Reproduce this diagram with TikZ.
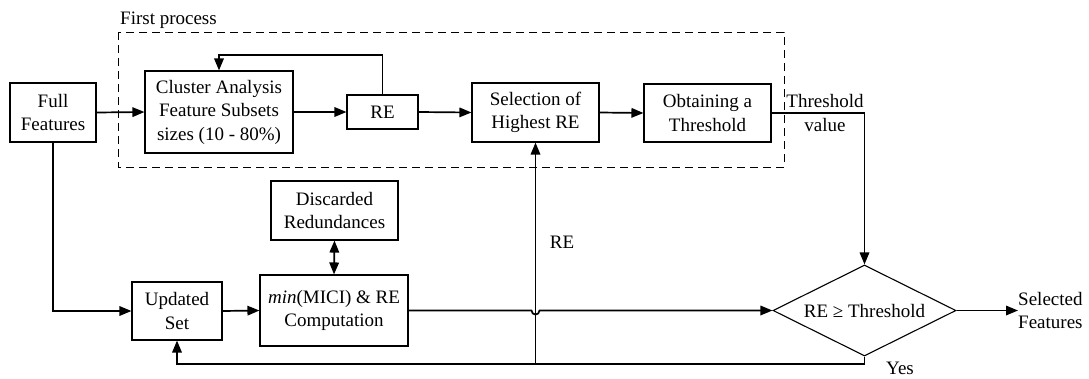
\documentclass[tikz,border=0pt]{standalone}
\usepackage{fontspec}
\setmainfont{Liberation Serif}
\usetikzlibrary{arrows.meta,shapes.geometric}
\begin{document}
\begin{tikzpicture}[x=1pt,y=-1pt,
  every node/.style={font=\fontsize{19}{23.5}\selectfont},
  box/.style={draw,line width=1.1pt,align=center,inner sep=0pt},
  decision/.style={draw,line width=1.1pt,diamond,aspect=2,inner sep=0pt,
    minimum width=183pt,minimum height=91pt},
  label/.style={align=center,inner sep=0pt},
  conn/.style={line width=1.7pt},
  arr/.style={conn,-{Triangle[length=12pt,width=9.5pt]}},
  dblarr/.style={conn,{Triangle[length=12pt,width=9.5pt]}-{Triangle[length=12pt,width=9.5pt]}}]

\useasboundingbox (0,0) rectangle (1089,378);

% grouping frame of the first process
\draw[line width=1pt,dash pattern=on 8pt off 5pt] (118,32) rectangle (784,167);
\node[label,anchor=west] (fp) at (120,20) {First process};

% boxes
\node[box,minimum width=86pt,minimum height=59pt] (full) at (53,112.5) {Full\\Features};
\node[box,minimum width=148pt,minimum height=82pt] (cluster) at (219,112) {Cluster Analysis\\Feature Subsets\\sizes (10 - 80\%)};
\node[box,minimum width=71pt,minimum height=34pt] (re) at (382.5,112) {RE};
\node[box,minimum width=127pt,minimum height=59pt] (sel) at (535.5,112.5) {Selection of\\Highest RE};
\node[box,minimum width=127pt,minimum height=58pt] (obt) at (707.5,113) {Obtaining a\\Threshold};
\node[box,minimum width=127pt,minimum height=59pt] (disc) at (334.5,210.5) {Discarded\\Redundances};
\node[box,minimum width=90pt,minimum height=58pt] (upd) at (177,311) {Updated\\Set};
\node[box,minimum width=148pt,minimum height=71pt] (minre) at (334,310.5) {\textit{min}(MICI) \& RE\\Computation};
\node[decision] (dia) at (864.5,310.5) {RE ≥ Threshold};
\node[label,anchor=west] (out) at (1018,310.5) {Selected\\Features};

% labels on connectors
\node[label] (thv) at (825,113) {Threshold\\value};
\node[label] (relab) at (562,242) {RE};
\node[label] (yes) at (900,368) {Yes};

% helper points
\coordinate (loopy) at (0,55);
\coordinate (boty) at (0,364);
\coordinate (hopL) at (531.5,310.5);
\coordinate (hopR) at (539.5,310.5);

% upper chain
\draw[arr] (full.east) -- (cluster.west);
\draw[arr] (cluster.east) -- (re.west);
\draw[arr] (re.north) -- (re.north |- loopy) -| (cluster.north);
\draw[arr] (re.east) -- (sel.west);
\draw[arr] (sel.east) -- (obt.west);
\draw[arr] (obt.east) -| (dia.north);

% lower chain
\draw[arr] (full.south) |- (upd.west);
\draw[arr] (upd.east) -- (minre.west);
\draw[dblarr] (disc.south) -- (minre.north);
\draw[arr] (minre.east) -- (hopL)
  .. controls ([yshift=-5.3pt]hopL) and ([yshift=-5.3pt]hopR) .. (hopR)
  -- (dia.west);
\draw[arr] (dia.east) -- (out.west);

% feedback from the decision
\draw[arr] (dia.south) -- (dia.south |- boty) -| (upd.south);
\draw[arr] (sel.south |- boty) -- (sel.south);

\end{tikzpicture}
\end{document}
